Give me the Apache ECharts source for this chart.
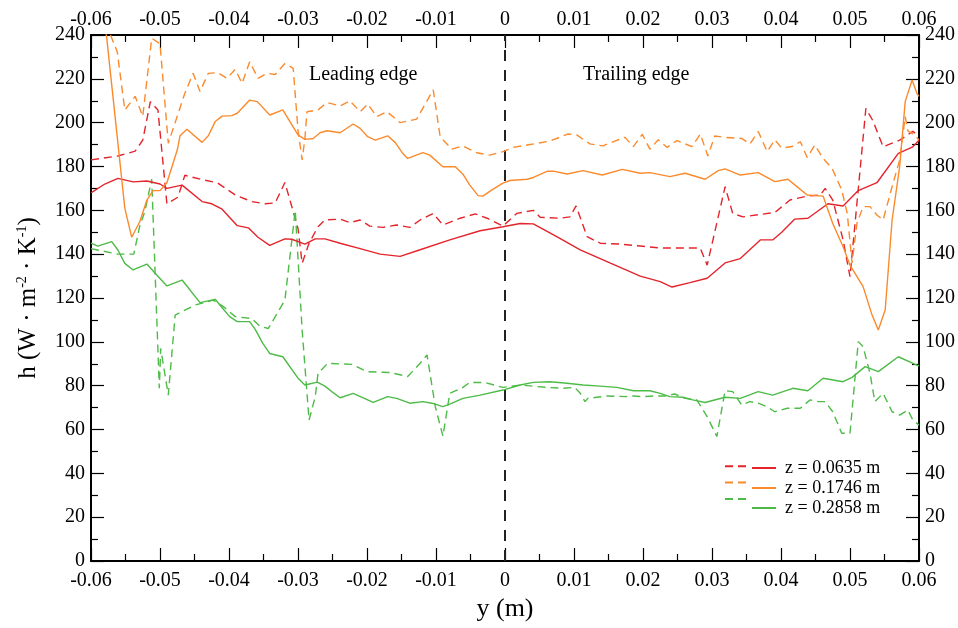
<!DOCTYPE html>
<html>
<head>
<meta charset="utf-8">
<script src="https://cdn.jsdelivr.net/npm/echarts@6/dist/echarts.min.js"></script>
<style>
html,body{margin:0;padding:0;background:#fff;}
#c{width:958px;height:628px;}
</style>
</head>
<body>
<div id="c"></div>
<script>
// ---- Data (y in m, h in W·m^-2·K^-1) ----
const xTicks = [-0.06,-0.05,-0.04,-0.03,-0.02,-0.01,0,0.01,0.02,0.03,0.04,0.05,0.06];
const yTicks = [0,20,40,60,80,100,120,140,160,180,200,220,240];

const seriesNames = ['z = 0.0635 m','z = 0.1746 m','z = 0.2858 m'];

// z = 0.0635 m, solid
const redSolidX = [-0.0600,-0.0580,-0.0561,-0.0539,-0.0519,-0.0500,-0.0490,-0.0468,-0.0439,-0.0425,
  -0.0410,-0.0388,-0.0372,-0.0358,-0.0341,-0.0319,-0.0309,-0.0290,-0.0275,-0.0261,
  -0.0239,-0.0210,-0.0181,-0.0152,-0.0123,-0.0080,-0.0036,-0.0003,0.0022,0.0041,
  0.0075,0.0109,0.0152,0.0196,0.0225,0.0242,0.0268,0.0293,0.0319,0.0341,
  0.0370,0.0388,0.0401,0.0420,0.0439,0.0468,0.0490,0.0512,0.0539,0.0570,
  0.0591,0.0600];
const redSolidY = [168,172,174.6,173,173.4,172,170,171.5,164,163,
  160.5,153,152,147.7,144,147,146.8,144.6,147,147,
  145,142.5,140,139,142,146.5,150.7,152.5,154,153.8,
  148,142,136,130,127.5,125,127,129,136,138,
  146.5,146.5,150,156,156.4,163,162,169,172.6,186,
  189,192];

// z = 0.0635 m, dashed
const redDashX = [-0.0600,-0.0561,-0.0536,-0.0525,-0.0514,-0.0503,-0.0490,-0.0474,-0.0464,-0.0439,
  -0.0417,-0.0391,-0.0367,-0.0348,-0.0333,-0.0319,-0.0300,-0.0294,-0.0284,-0.0271,
  -0.0261,-0.0239,-0.0225,-0.0210,-0.0196,-0.0177,-0.0157,-0.0138,-0.0123,-0.0104,
  -0.0090,-0.0065,-0.0043,-0.0026,-0.0003,0.0017,0.0041,0.0051,0.0080,0.0094,
  0.0103,0.0119,0.0138,0.0167,0.0196,0.0225,0.0254,0.0283,0.0293,0.0319,
  0.0330,0.0345,0.0367,0.0391,0.0413,0.0438,0.0457,0.0464,0.0475,0.0490,
  0.0500,0.0523,0.0533,0.0548,0.0572,0.0591,0.0600];
const redDashY = [183,184.8,187,192,209.6,205.8,163,166,176,174,
  172.6,167,164,163,163.4,172.7,151.8,135.8,145,152.5,
  155.6,156,154.4,155.6,152.8,152.2,153.3,152.2,155.6,158.6,
  153.3,156.4,158.4,156.4,152.8,158.6,160,156.8,156.4,157,
  162,148,145,144.6,143.7,142.8,142.8,142.8,135,170.8,
  158.6,157,158,159,164.7,166.5,167,170,164.7,146.5,
  129.7,206.5,201,189,192,196,194];

// z = 0.1746 m, solid
const orangeSolidX = [-0.0600,-0.0577,-0.0551,-0.0541,-0.0529,-0.0519,-0.0510,-0.0500,-0.0490,-0.0475,
  -0.0471,-0.0461,-0.0439,-0.0430,-0.0420,-0.0410,-0.0396,-0.0388,-0.0370,-0.0359,
  -0.0341,-0.0322,-0.0300,-0.0290,-0.0278,-0.0268,-0.0258,-0.0239,-0.0220,-0.0210,
  -0.0199,-0.0188,-0.0170,-0.0159,-0.0149,-0.0141,-0.0119,-0.0109,-0.0090,-0.0072,
  -0.0061,-0.0051,-0.0039,-0.0032,-0.0019,-0.0003,0.0007,0.0032,0.0041,0.0061,
  0.0070,0.0090,0.0113,0.0141,0.0170,0.0196,0.0210,0.0239,0.0261,0.0290,
  0.0309,0.0319,0.0341,0.0367,0.0391,0.0410,0.0420,0.0438,0.0461,0.0475,
  0.0490,0.0500,0.0519,0.0532,0.0541,0.0551,0.0561,0.0572,0.0580,0.0590,
  0.0597,0.0600];
const orangeSolidY = [290,238,161,147.7,155,164.7,169,169,172.6,187.5,
  194,197,191,194,200.5,203,203.2,204.3,210.3,209.6,
  203.5,205.8,194.4,192.4,192.8,195.4,196.3,195.4,199.4,197.4,
  193.6,192,194,190.9,186.3,183.7,186.3,185.2,179.9,179.9,
  176.5,171.5,166.7,166.5,169.3,172.4,173.6,174.2,175,177.8,
  177.9,176.6,178.1,176.1,178.7,176.9,177.2,175.4,176.9,174.2,
  178.1,178.9,176.1,177.2,173.1,174.2,171.6,167,166.5,154,
  143.4,135,125.2,112.2,105.4,114.5,155.6,180,209.6,219.5,
  213.4,212];

// z = 0.1746 m, dashed
const orangeDashX = [-0.0600,-0.0562,-0.0551,-0.0536,-0.0525,-0.0512,-0.0500,-0.0488,-0.0464,-0.0452,
  -0.0442,-0.0430,-0.0416,-0.0403,-0.0391,-0.0381,-0.0370,-0.0358,-0.0345,-0.0333,
  -0.0319,-0.0307,-0.0300,-0.0294,-0.0290,-0.0287,-0.0271,-0.0258,-0.0239,-0.0225,
  -0.0210,-0.0199,-0.0186,-0.0171,-0.0152,-0.0128,-0.0104,-0.0094,-0.0077,-0.0061,
  -0.0041,-0.0022,-0.0003,0.0012,0.0032,0.0065,0.0091,0.0104,0.0123,0.0142,
  0.0159,0.0174,0.0186,0.0199,0.0210,0.0222,0.0235,0.0249,0.0271,0.0283,
  0.0294,0.0304,0.0319,0.0343,0.0355,0.0367,0.0380,0.0391,0.0401,0.0416,
  0.0428,0.0438,0.0449,0.0461,0.0474,0.0488,0.0496,0.0503,0.0510,0.0519,
  0.0529,0.0539,0.0548,0.0561,0.0572,0.0580,0.0584,0.0594,0.0600];
const orangeDashY = [262,232.4,205.8,212,202.8,238.5,236,190.6,213.4,222.5,
  214.2,222.5,222.8,220.2,224.3,217.9,227.8,220.2,222.5,222,
  227,224.8,196.6,183,192.8,205,205.8,209.2,207.6,210,
  205,208.5,202.8,205,200,201.6,215,193.6,187.9,189.4,
  186.3,185.2,186.8,188.7,189.8,191.6,194.8,194.4,190.3,189.4,
  191.6,193.3,189.1,194.7,187.9,192.2,188.7,191.8,189.1,194.8,
  184.8,193.9,193.3,192.8,190.3,196,186.8,192.2,188.4,189.1,
  191.3,184.1,189.8,183.7,179.2,169.3,158.6,136,154,161.7,
  161.7,157.9,155.6,170.8,183,202.8,196.1,194.4,192];

// z = 0.2858 m, solid
const greenSolidX = [-0.0600,-0.0590,-0.0570,-0.0561,-0.0551,-0.0539,-0.0519,-0.0507,-0.0490,-0.0468,
  -0.0442,-0.0420,-0.0409,-0.0399,-0.0388,-0.0370,-0.0362,-0.0351,-0.0341,-0.0322,
  -0.0300,-0.0290,-0.0272,-0.0261,-0.0249,-0.0239,-0.0220,-0.0191,-0.0170,-0.0157,
  -0.0138,-0.0119,-0.0106,-0.0090,-0.0080,-0.0061,-0.0036,-0.0003,0.0022,0.0041,
  0.0065,0.0090,0.0113,0.0138,0.0162,0.0186,0.0210,0.0225,0.0239,0.0258,
  0.0272,0.0290,0.0319,0.0341,0.0367,0.0388,0.0417,0.0439,0.0461,0.0490,
  0.0503,0.0522,0.0541,0.0570,0.0597,0.0600];
const greenSolidY = [145,143.7,145.7,141.9,135.8,132.8,135.5,131.3,125.5,128.2,
  117.9,119.4,115.2,111.5,109.2,109.2,105.7,99.3,94.7,93.2,
  83.4,80.3,81.6,79.8,76.8,74.5,76.5,72.4,75,74.2,
  72,72.7,72,70.4,71.6,74.2,75.7,78,80.3,81.5,
  81.8,81.1,80.3,79.8,79.2,77.7,77.7,76.5,75,74.7,
  73.5,72.3,74.7,74.2,77.3,75.7,78.8,77.7,83.4,81.8,
  83.8,88.7,86.4,93.2,89.4,89];

// z = 0.2858 m, dashed
const greenDashX = [-0.0600,-0.0561,-0.0538,-0.0529,-0.0522,-0.0512,-0.0501,-0.0499,-0.0488,-0.0478,
  -0.0449,-0.0423,-0.0409,-0.0391,-0.0367,-0.0355,-0.0343,-0.0319,-0.0304,-0.0294,
  -0.0284,-0.0275,-0.0271,-0.0257,-0.0222,-0.0200,-0.0167,-0.0141,-0.0123,-0.0113,
  -0.0101,-0.0090,-0.0080,-0.0061,-0.0051,-0.0029,-0.0003,0.0022,0.0046,0.0065,
  0.0084,0.0101,0.0109,0.0116,0.0120,0.0133,0.0149,0.0174,0.0186,0.0200,
  0.0217,0.0232,0.0246,0.0261,0.0278,0.0293,0.0307,0.0319,0.0330,0.0343,
  0.0355,0.0367,0.0380,0.0391,0.0409,0.0428,0.0442,0.0454,0.0464,0.0475,
  0.0488,0.0500,0.0512,0.0519,0.0529,0.0536,0.0548,0.0561,0.0572,0.0584,
  0.0591,0.0597,0.0600];
const greenDashY = [142.5,140,140,153.3,159.4,174.2,78.8,97,75.7,112.2,
  116.8,119,116.3,111.5,110.6,107,106.1,119,160,105.4,
  64.3,75,85.6,90.2,89.7,86.4,86,84.2,90.2,94,
  70.4,57,76.5,79.2,81.5,81.4,79.2,80.3,79.6,79.1,
  78.8,79.2,76.5,72.7,74.2,74.7,75.3,75,75.3,75,
  75.3,75.3,76.2,74.2,73.5,65.9,56.8,77.7,77.3,71.2,
  72.7,72,70.4,68.1,69.7,69.7,73.5,72.7,72.7,68.1,
  58.3,58.3,100.1,97.8,85.6,72.7,76.5,68.1,66.6,68.9,
  64.3,62.8,62];

// Divider at y = 0
const dividerX = [0,0];
const dividerY = [0,240];

// ---- Chart ----
const FONT = "'Liberation Serif','Times New Roman',Times,serif";
const RED = '#e3242b', ORANGE = '#fb8a2c', GREEN = '#4dbb47';
const DASH = [8,5];

function zip(xs, ys){ return xs.map((x,i)=>[x, ys[i]]); }
function fmtX(v){ const r = Math.round(v*100)/100; return String(r === 0 ? 0 : r); }

function lineSeries(name, xs, ys, color, dashed){
  return {
    name: name, type:'line', xAxisIndex:0, yAxisIndex:0,
    data: zip(xs, ys), symbol:'none', showSymbol:false, clip:true,
    silent:true, animation:false,
    lineStyle:{color:color, width:1.4, type: dashed ? DASH : 'solid'},
    itemStyle:{color:color}
  };
}

const tickStyle = {color:'#000', width:1.2};
function xAxis(pos){
  return {
    type:'value', position:pos, min:-0.06, max:0.06, interval:0.01,
    axisLine:{show:true, onZero:false, lineStyle:{color:'#000', width:2}},
    axisTick:{show:true, inside:true, length:13, lineStyle:tickStyle},
    minorTick:{show:true, splitNumber:2, length:7, lineStyle:tickStyle},
    splitLine:{show:false}, minorSplitLine:{show:false},
    axisLabel:{fontFamily:FONT, fontSize:20, color:'#000', margin:pos === 'bottom' ? 10 : 5, formatter:fmtX,
               showMinLabel:true, showMaxLabel:true},
    name: pos === 'bottom' ? 'y (m)' : '',
    nameLocation:'middle', nameGap:32,
    nameTextStyle:{fontFamily:FONT, fontSize:26, color:'#000'}
  };
}
function yAxis(pos){
  return {
    type:'value', position:pos, min:0, max:240, interval:20,
    axisLine:{show:true, onZero:false, lineStyle:{color:'#000', width:2}},
    axisTick:{show:true, inside:true, length:13, lineStyle:tickStyle},
    minorTick:{show:true, splitNumber:2, length:7, lineStyle:tickStyle},
    splitLine:{show:false}, minorSplitLine:{show:false},
    axisLabel:{fontFamily:FONT, fontSize:20, color:'#000', margin:6,
               showMinLabel:true, showMaxLabel:true},
    name: pos === 'left' ? 'h (W · m{sup|-2} · K{sup|-1})' : '',
    nameLocation:'middle', nameGap:50, nameRotate:90,
    nameTextStyle:{fontFamily:FONT, fontSize:25, color:'#000',
      rich:{sup:{fontFamily:FONT, fontSize:14, color:'#000', verticalAlign:'top', padding:[0,0,12,0]}}}
  };
}

const dashedNames = seriesNames.map(n => n + ' (dashed)');
const legendItemStyle = {color:'rgba(0,0,0,0)', borderWidth:0, borderColor:'rgba(0,0,0,0)'};

const option = {
  animation:false,
  backgroundColor:'#fff',
  grid:{left:91, right:39, top:35, bottom:67, containLabel:false},
  xAxis:[xAxis('bottom'), xAxis('top')],
  yAxis:[yAxis('left'), yAxis('right')],
  legend:[
    {data:dashedNames, orient:'vertical', left:724, top:459, itemWidth:21, itemHeight:18, itemGap:2,
     selectedMode:false, formatter:function(){return '';}, textStyle:{fontSize:1, lineHeight:18}, padding:0,
     itemStyle:legendItemStyle},
    {data:seriesNames, orient:'vertical', left:751, top:459, itemWidth:24, itemHeight:18, itemGap:2,
     selectedMode:false, padding:0, itemStyle:legendItemStyle,
     textStyle:{fontFamily:FONT, fontSize:18, lineHeight:18, color:'#000', padding:[0,0,0,4]}}
  ],
  graphic:[
    {type:'text', left:309, top:65, silent:true,
     style:{text:'Leading edge', font:'20px ' + FONT, fill:'#000'}},
    {type:'text', left:583, top:65, silent:true,
     style:{text:'Trailing edge', font:'20px ' + FONT, fill:'#000'}}
  ],
  series:[
    {name:'divider', type:'line', data:zip(dividerX, dividerY), symbol:'none', silent:true,
     lineStyle:{color:'#222', width:2, type:[11,9]}, z:1},
    lineSeries(dashedNames[0], redDashX, redDashY, RED, true),
    lineSeries(dashedNames[1], orangeDashX, orangeDashY, ORANGE, true),
    lineSeries(dashedNames[2], greenDashX, greenDashY, GREEN, true),
    lineSeries(seriesNames[0], redSolidX, redSolidY, RED, false),
    lineSeries(seriesNames[1], orangeSolidX, orangeSolidY, ORANGE, false),
    lineSeries(seriesNames[2], greenSolidX, greenSolidY, GREEN, false)
  ]
};

const chart = echarts.init(document.getElementById('c'), null, {renderer:'canvas'});
chart.setOption(option);
</script>
</body>
</html>
